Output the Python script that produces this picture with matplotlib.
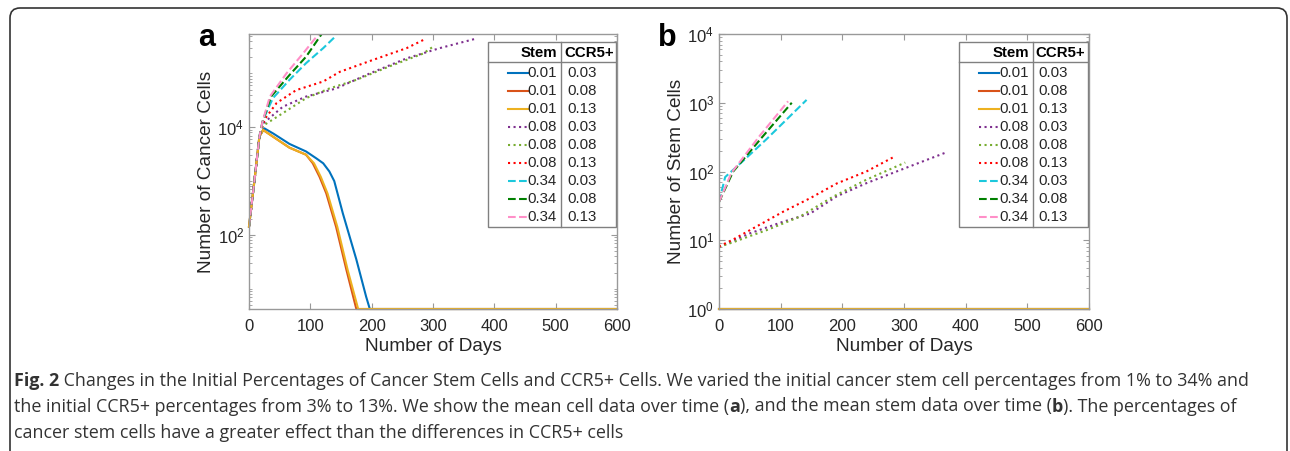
import numpy as np
import matplotlib.pyplot as plt
from matplotlib.patches import FancyBboxPatch, Rectangle
from matplotlib.lines import Line2D
from matplotlib.ticker import FixedLocator, LogLocator, NullFormatter, LogFormatterSciNotation

plt.rcParams['font.family'] = ['Liberation Sans', 'DejaVu Sans']

# legend table
stem_labels = ['0.01', '0.01', '0.01', '0.08', '0.08', '0.08', '0.34', '0.34', '0.34']
ccr5_labels = ['0.03', '0.08', '0.13', '0.03', '0.08', '0.13', '0.03', '0.08', '0.13']
colors = ['#0072BD', '#D95319', '#EDB120', '#7E2F8E', '#77AC30', '#FF0000',
          '#1CC8DC', '#008000', '#FF8FC8']
styles = ['-', '-', '-', ':', ':', ':', '--', '--', '--']

# panel a: number of cancer cells vs days
a_s01_c03_days = [0, 9, 17, 25, 40, 66, 93, 110, 121, 131, 139, 153, 175, 191, 197, 600]
a_s01_c03 = [143, 1050, 6760, 9550, 7590, 4900, 3550, 2630, 2140, 1510, 1000, 251, 35, 7.1, 4.2, 4.2]
a_s01_c08_days = [0, 9, 17, 23, 45, 66, 93, 104, 115, 126, 142, 159, 175, 600]
a_s01_c08 = [143, 1050, 6760, 8900, 6030, 4170, 3090, 2140, 1200, 590, 141, 22, 4.2, 4.2]
a_s01_c13_days = [0, 9, 17, 23, 45, 66, 93, 106, 117, 128, 144, 161, 178, 600]
a_s01_c13 = [143, 1050, 6760, 8900, 6030, 4170, 3090, 2140, 1200, 590, 141, 22, 4.2, 4.2]
a_s08_c03_days = [0, 9, 17, 23, 55, 93, 142, 197, 257, 311, 368]
a_s08_c03 = [143, 1050, 6760, 11750, 24000, 37150, 52500, 100000, 190500, 295000, 436500]
a_s08_c08_days = [0, 9, 17, 23, 55, 93, 131, 175, 229, 284, 303]
a_s08_c08 = [143, 1050, 6760, 10700, 18200, 34700, 52500, 75900, 135000, 234000, 331000]
a_s08_c13_days = [0, 9, 17, 25, 45, 77, 121, 148, 202, 257, 284]
a_s08_c13 = [143, 1050, 6760, 13800, 28200, 49000, 70800, 107000, 178000, 295000, 417000]
a_s34_c03_days = [0, 9, 17, 23, 39, 66, 93, 121, 142]
a_s34_c03 = [143, 1050, 6760, 13800, 34700, 75900, 155000, 295000, 501000]
a_s34_c08_days = [0, 9, 17, 22, 36, 66, 93, 118]
a_s34_c08 = [143, 1050, 6760, 12600, 37150, 93300, 204000, 530000]
a_s34_c13_days = [0, 9, 17, 22, 34, 61, 88, 113]
a_s34_c13 = [143, 1050, 6760, 12600, 37150, 100000, 234000, 530000]

# panel b: number of stem cells vs days
b_s01_c03_days = [0, 600]
b_s01_c03 = [1, 1]
b_s01_c08_days = [0, 600]
b_s01_c08 = [1, 1]
b_s01_c13_days = [0, 600]
b_s01_c13 = [1, 1]
b_s08_c03_days = [0, 25, 50, 104, 148, 191, 239, 294, 366]
b_s08_c03 = [8, 10, 12.6, 18.6, 24.5, 43.6, 67.6, 105, 186]
b_s08_c08_days = [0, 25, 50, 77, 131, 185, 239, 302]
b_s08_c08 = [8, 9.5, 11.5, 14, 22, 43, 76, 135]
b_s08_c13_days = [0, 25, 50, 104, 148, 191, 239, 283]
b_s08_c13 = [8.1, 10.5, 14, 26, 41, 67, 100, 162]
b_s34_c03_days = [0, 10, 40, 77, 110, 142]
b_s34_c03 = [36, 83, 145, 295, 575, 1100]
b_s34_c08_days = [0, 23, 70, 118]
b_s34_c08 = [36, 100, 316, 1000]
b_s34_c13_days = [0, 20, 66, 112]
b_s34_c13 = [36, 95, 330, 1050]

a_series = [(a_s01_c03_days, a_s01_c03), (a_s01_c08_days, a_s01_c08), (a_s01_c13_days, a_s01_c13),
            (a_s08_c03_days, a_s08_c03), (a_s08_c08_days, a_s08_c08), (a_s08_c13_days, a_s08_c13),
            (a_s34_c03_days, a_s34_c03), (a_s34_c08_days, a_s34_c08), (a_s34_c13_days, a_s34_c13)]
b_series = [(b_s01_c03_days, b_s01_c03), (b_s01_c08_days, b_s01_c08), (b_s01_c13_days, b_s01_c13),
            (b_s08_c03_days, b_s08_c03), (b_s08_c08_days, b_s08_c08), (b_s08_c13_days, b_s08_c13),
            (b_s34_c03_days, b_s34_c03), (b_s34_c08_days, b_s34_c08), (b_s34_c13_days, b_s34_c13)]

TXT = '#262626'
SPINE = '#999999'


def style_axes(ax):
    for s in ax.spines.values():
        s.set_color(SPINE)
        s.set_linewidth(1.0)
    ax.tick_params(which='both', direction='in', top=True, right=True, colors=SPINE,
                   labelcolor=TXT, labelsize=12)
    ax.tick_params(which='major', length=4)
    ax.tick_params(which='minor', length=2.2)
    ax.tick_params(axis='x', pad=7)
    ax.set_xlim(0, 600)
    ax.set_xticks(np.arange(0, 601, 100))
    ax.set_xlabel('Number of Days', fontsize=13.7, color=TXT, labelpad=3)


def draw_key(ax):
    tr = ax.transAxes
    x0, x1, y0, y1 = 0.649, 0.997, 0.298, 0.971
    ax.add_patch(Rectangle((x0, y0), x1 - x0, y1 - y0, transform=tr, fc='white',
                           ec='#808080', lw=1.0, zorder=10, clip_on=False))
    ax.add_line(Line2D([x0, x1], [0.898, 0.898], transform=tr, color='#808080', lw=1.0, zorder=11))
    ax.add_line(Line2D([0.848, 0.848], [y0, y1], transform=tr, color='#808080', lw=1.0, zorder=11))
    ax.text(0.837, 0.932, 'Stem', transform=tr, ha='right', va='center', fontsize=10.8,
            fontweight='bold', color='black', zorder=12)
    ax.text(0.856, 0.932, 'CCR5+', transform=tr, ha='left', va='center', fontsize=10.8,
            fontweight='bold', color='black', zorder=12)
    for i in range(9):
        y = 1 - (73.3 + 17.9 * i - 34) / 275
        ax.add_line(Line2D([0.704, 0.757], [y, y], transform=tr, color=colors[i],
                           ls=styles[i], lw=1.5, zorder=12))
        ax.text(0.837, y, stem_labels[i], transform=tr, ha='right', va='center',
                fontsize=10.8, color=TXT, zorder=12)
        ax.text(0.864, y, ccr5_labels[i], transform=tr, ha='left', va='center',
                fontsize=10.8, color=TXT, zorder=12)


fig = plt.figure(figsize=(12.9, 4.51), dpi=100)

# panel a
ax1 = fig.add_axes([249 / 1290, 1 - 309 / 451, 368 / 1290, 275 / 451])
for i, (d, v) in enumerate(a_series):
    ax1.plot(d, v, color=colors[i], ls=styles[i], lw=1.5, clip_on=(i >= 3))
ax1.set_yscale('log')
ax1.set_ylim(4.2, 5.4e5)
ax1.yaxis.set_major_locator(FixedLocator([1e2, 1e4]))
ax1.yaxis.set_major_formatter(LogFormatterSciNotation())
ax1.yaxis.set_minor_locator(LogLocator(base=10, subs=np.arange(1, 10)))
ax1.yaxis.set_minor_formatter(NullFormatter())
style_axes(ax1)
ax1.set_ylabel('Number of Cancer Cells', fontsize=13.7, color=TXT, labelpad=2)
draw_key(ax1)

# panel b
ax2 = fig.add_axes([719 / 1290, 1 - 309 / 451, 370 / 1290, 275 / 451])
for i, (d, v) in enumerate(b_series):
    ax2.plot(d, v, color=colors[i], ls=styles[i], lw=1.5, clip_on=(i >= 3))
ax2.set_yscale('log')
ax2.set_ylim(1, 1e4)
ax2.yaxis.set_major_locator(FixedLocator([1, 10, 100, 1000, 10000]))
ax2.yaxis.set_major_formatter(LogFormatterSciNotation())
ax2.yaxis.set_minor_locator(LogLocator(base=10, subs=np.arange(2, 10)))
ax2.yaxis.set_minor_formatter(NullFormatter())
style_axes(ax2)
ax2.set_ylabel('Number of Stem Cells', fontsize=13.7, color=TXT, labelpad=2)
draw_key(ax2)

# panel letters
fig.text(207 / 1290, 1 - 38 / 451, 'a', fontsize=22, fontweight='bold', ha='center', va='center')
fig.text(667 / 1290, 1 - 38 / 451, 'b', fontsize=22, fontweight='bold', ha='center', va='center')

# frame around the figure
frame = FancyBboxPatch((0.10, -0.5), 12.77, 4.93, boxstyle='round,pad=0,rounding_size=0.1',
                       transform=fig.dpi_scale_trans, fc='none', ec='#333333', lw=1.2)
fig.patches.append(frame)

# caption
cap_lines = [
    [('Fig. 2', 'bold'), (' Changes in the Initial Percentages of Cancer Stem Cells and CCR5+ Cells. '
                          'We varied the initial cancer stem cell percentages from 1% to 34% and', 'normal')],
    [('the initial CCR5+ percentages from 3% to 13%. We show the mean cell data over time (', 'normal'),
     ('a', 'bold'), ('), and the mean stem data over time (', 'normal'), ('b', 'bold'),
     ('). The percentages of', 'normal')],
    [('cancer stem cells have a greater effect than the differences in CCR5+ cells', 'normal')],
]
cap_base = [0.655, 0.395, 0.135]
for line, yb in zip(cap_lines, cap_base):
    prev = None
    for txt, w in line:
        kw = dict(fontsize=12.9, fontweight=w, family='Open Sans', color='#333333',
                  ha='left', va='baseline')
        if prev is None:
            prev = fig.text(0.14 / 12.9, yb / 4.51, txt, **kw)
        else:
            prev = fig.add_artist(plt.Annotation(txt, xy=(1, yb),
                                                 xycoords=(prev, fig.dpi_scale_trans), **kw))

fig.savefig('out.png', dpi=100)
